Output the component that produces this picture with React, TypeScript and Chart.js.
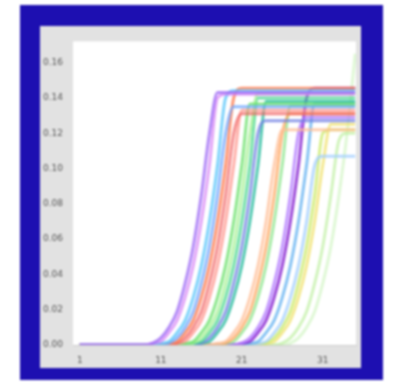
import React, { useEffect, useRef } from "react";
import { Chart, registerables } from "chart.js";

Chart.register(...registerables);

const CYCLES = [1, 2, 3, 4, 5, 6, 7, 8, 9, 10, 11, 12, 13, 14, 15, 16, 17, 18, 19, 20, 21, 22, 23, 24, 25, 26, 27, 28, 29, 30, 31, 32, 33, 34, 35];
const X_TICKS = [1, 11, 21, 31];
const Y_TICKS = [0, 0.02, 0.04, 0.06, 0.08, 0.1, 0.12, 0.14, 0.16];

const s01 = [0, 0, 0, 0, 0, 0, 0, 0, 0,
  0.001, 0.004, 0.01, 0.019, 0.035, 0.056, 0.085, 0.12,
  0.143, 0.143, 0.143, 0.143, 0.143, 0.143, 0.143, 0.143, 0.143,
  0.143, 0.143, 0.143, 0.143, 0.143, 0.143, 0.143, 0.143, 0.143];
const s02 = [0, 0, 0, 0, 0, 0, 0, 0, 0,
  0.001, 0.002, 0.007, 0.014, 0.027, 0.045, 0.07, 0.102, 0.14,
  0.142, 0.142, 0.142, 0.142, 0.142, 0.142, 0.142, 0.142, 0.142,
  0.142, 0.142, 0.142, 0.142, 0.142, 0.142, 0.142, 0.142];
const s03 = [0, 0, 0, 0, 0, 0, 0, 0, 0, 0,
  0.001, 0.002, 0.007, 0.014, 0.027, 0.045, 0.07, 0.102, 0.14,
  0.144, 0.144, 0.144, 0.144, 0.144, 0.144, 0.144, 0.144,
  0.144, 0.144, 0.144, 0.144, 0.144, 0.144, 0.144, 0.144];
const s04 = [0, 0, 0, 0, 0, 0, 0, 0, 0, 0, 0,
  0.001, 0.004, 0.01, 0.019, 0.035, 0.056, 0.085, 0.12,
  0.135, 0.135, 0.135, 0.135, 0.135, 0.135, 0.135, 0.135,
  0.135, 0.135, 0.135, 0.135, 0.135, 0.135, 0.135, 0.135];
const s05 = [0, 0, 0, 0, 0, 0, 0, 0, 0, 0, 0,
  0.001, 0.002, 0.007, 0.014, 0.027, 0.045, 0.07, 0.102, 0.14,
  0.1455, 0.1455, 0.1455, 0.1455, 0.1455, 0.1455, 0.1455, 0.1455,
  0.1455, 0.1455, 0.1455, 0.1455, 0.1455, 0.1455, 0.1455];
const s06 = [0, 0, 0, 0, 0, 0, 0, 0, 0, 0, 0, 0,
  0.001, 0.004, 0.01, 0.019, 0.035, 0.056, 0.085, 0.12,
  0.131, 0.131, 0.131, 0.131, 0.131, 0.131, 0.131, 0.131,
  0.131, 0.131, 0.131, 0.131, 0.131, 0.131, 0.131];
const s07 = [0, 0, 0, 0, 0, 0, 0, 0, 0, 0, 0, 0,
  0.001, 0.002, 0.007, 0.014, 0.027, 0.045, 0.07, 0.102,
  0.133, 0.133, 0.133, 0.133, 0.133, 0.133, 0.133, 0.133,
  0.133, 0.133, 0.133, 0.133, 0.133, 0.133, 0.133];
const s08 = [0, 0, 0, 0, 0, 0, 0, 0, 0, 0, 0, 0, 0,
  0.001, 0.002, 0.007, 0.014, 0.027, 0.045, 0.07, 0.102,
  0.1365, 0.1365, 0.1365, 0.1365, 0.1365, 0.1365, 0.1365,
  0.1365, 0.1365, 0.1365, 0.1365, 0.1365, 0.1365, 0.1365];
const s09 = [0, 0, 0, 0, 0, 0, 0, 0, 0, 0, 0, 0, 0, 0,
  0.001, 0.004, 0.01, 0.019, 0.035, 0.056, 0.085, 0.12,
  0.1425, 0.1425, 0.1425, 0.1425, 0.1425, 0.1425, 0.1425,
  0.1425, 0.1425, 0.1425, 0.1425, 0.1425, 0.1425];
const s10 = [0, 0, 0, 0, 0, 0, 0, 0, 0, 0, 0, 0, 0, 0,
  0.001, 0.002, 0.007, 0.014, 0.027, 0.045, 0.07, 0.102,
  0.14, 0.14, 0.14, 0.14, 0.14, 0.14, 0.14,
  0.14, 0.14, 0.14, 0.14, 0.14, 0.14];
const s11 = [0, 0, 0, 0, 0, 0, 0, 0, 0, 0, 0, 0, 0, 0, 0,
  0.001, 0.004, 0.01, 0.019, 0.035, 0.056, 0.085, 0.12,
  0.127, 0.127, 0.127, 0.127, 0.127, 0.127,
  0.127, 0.127, 0.127, 0.127, 0.127, 0.127];
const s12 = [0, 0, 0, 0, 0, 0, 0, 0, 0, 0, 0, 0, 0, 0, 0,
  0.001, 0.002, 0.007, 0.014, 0.027, 0.045, 0.07, 0.102,
  0.138, 0.138, 0.138, 0.138, 0.138, 0.138,
  0.138, 0.138, 0.138, 0.138, 0.138, 0.138];
const s13 = [0, 0, 0, 0, 0, 0, 0, 0, 0, 0, 0, 0, 0, 0, 0, 0, 0,
  0.001, 0.002, 0.007, 0.014, 0.027, 0.045, 0.07, 0.102,
  0.122, 0.122, 0.122, 0.122, 0.122,
  0.122, 0.122, 0.122, 0.122, 0.122];
const s14 = [0, 0, 0, 0, 0, 0, 0, 0, 0, 0, 0, 0, 0, 0, 0, 0, 0, 0,
  0.001, 0.004, 0.01, 0.019, 0.035, 0.056, 0.085, 0.12,
  0.131, 0.131, 0.131, 0.131, 0.131,
  0.131, 0.131, 0.131, 0.131];
const s15 = [0, 0, 0, 0, 0, 0, 0, 0, 0, 0, 0, 0, 0, 0, 0, 0, 0, 0,
  0.001, 0.002, 0.007, 0.014, 0.027, 0.045, 0.07, 0.102,
  0.1355, 0.1355, 0.1355, 0.1355, 0.1355,
  0.1355, 0.1355, 0.1355, 0.1355];
const s16 = [0, 0, 0, 0, 0, 0, 0, 0, 0, 0, 0, 0, 0, 0, 0, 0, 0, 0, 0, 0,
  0.001, 0.004, 0.01, 0.019, 0.035, 0.056, 0.085, 0.12,
  0.129, 0.129, 0.129, 0.129, 0.129, 0.129, 0.129];
const s17 = [0, 0, 0, 0, 0, 0, 0, 0, 0, 0, 0, 0, 0, 0, 0, 0, 0, 0, 0, 0,
  0.001, 0.002, 0.007, 0.014, 0.027, 0.045, 0.07, 0.102, 0.14,
  0.1455, 0.1455, 0.1455, 0.1455, 0.1455, 0.1455];
const s18 = [0, 0, 0, 0, 0, 0, 0, 0, 0, 0, 0, 0, 0, 0, 0, 0, 0, 0, 0, 0, 0,
  0.001, 0.002, 0.007, 0.014, 0.027, 0.045, 0.07, 0.102,
  0.137, 0.137, 0.137, 0.137, 0.137, 0.137];
const s19 = [0, 0, 0, 0, 0, 0, 0, 0, 0, 0, 0, 0, 0, 0, 0, 0, 0, 0, 0, 0, 0, 0,
  0.001, 0.002, 0.007, 0.014, 0.027, 0.045, 0.07, 0.102,
  0.107, 0.107, 0.107, 0.107, 0.107];
const s20 = [0, 0, 0, 0, 0, 0, 0, 0, 0, 0, 0, 0, 0, 0, 0, 0, 0, 0, 0, 0, 0, 0, 0,
  0.001, 0.004, 0.01, 0.019, 0.035, 0.056, 0.085, 0.12,
  0.122, 0.122, 0.122, 0.122];
const s21 = [0, 0, 0, 0, 0, 0, 0, 0, 0, 0, 0, 0, 0, 0, 0, 0, 0, 0, 0, 0, 0, 0, 0,
  0.001, 0.002, 0.007, 0.014, 0.027, 0.045, 0.07, 0.102,
  0.125, 0.125, 0.125, 0.125];
const s22 = [0, 0, 0, 0, 0, 0, 0, 0, 0, 0, 0, 0, 0, 0, 0, 0, 0, 0, 0, 0, 0, 0, 0, 0, 0,
  0.001, 0.004, 0.01, 0.019, 0.035, 0.056, 0.085, 0.116,
  0.12, 0.12];
const s23 = [0, 0, 0, 0, 0, 0, 0, 0, 0, 0, 0, 0, 0, 0, 0, 0, 0, 0, 0, 0, 0, 0, 0, 0, 0, 0,
  0.001, 0.004, 0.01, 0.019, 0.035, 0.056, 0.085, 0.12, 0.165];

const SERIES = [s01, s02, s03, s04, s05, s06, s07, s08, s09, s10, s11, s12, s13, s14, s15, s16, s17, s18, s19, s20, s21, s22, s23];
const COLORS = [
  "rgba(160,110,245,0.8)", "rgba(215,130,245,0.7)", "rgba(95,200,250,0.8)", "rgba(110,165,255,0.75)",
  "rgba(255,125,80,0.8)", "rgba(240,95,95,0.7)", "rgba(255,150,140,0.75)", "rgba(110,225,110,0.8)",
  "rgba(165,240,145,0.75)", "rgba(70,215,140,0.75)", "rgba(110,125,225,0.75)", "rgba(45,190,160,0.8)",
  "rgba(255,190,150,0.75)", "rgba(255,165,95,0.75)", "rgba(140,230,140,0.75)", "rgba(180,125,255,0.8)",
  "rgba(140,45,210,0.85)", "rgba(95,175,240,0.75)", "rgba(160,205,255,0.75)", "rgba(205,235,110,0.8)",
  "rgba(240,225,110,0.75)", "rgba(190,240,160,0.7)", "rgba(210,245,195,0.7)",
];

const bgPlugin = {
  id: "areaBg",
  beforeDraw(chart: any) {
    const { ctx, chartArea } = chart;
    ctx.save();
    ctx.fillStyle = "#ffffff";
    ctx.fillRect(chartArea.left, chartArea.top, chartArea.right - chartArea.left, chartArea.bottom - chartArea.top);
    ctx.restore();
  },
};

export default function App() {
  const ref = useRef<HTMLCanvasElement | null>(null);
  useEffect(() => {
    if (!ref.current) return;
    const chart = new Chart(ref.current, {
      type: "line",
      data: {
        datasets: SERIES.map((vals, k) => ({
          data: vals.map((v, i) => ({ x: CYCLES[i], y: v })),
          borderColor: COLORS[k],
          borderWidth: 3,
          pointRadius: 0,
          fill: false,
          cubicInterpolationMode: "monotone" as const,
        })),
      },
      options: {
        animation: false,
        responsive: false,
        devicePixelRatio: 1,
        layout: { padding: { top: 11, right: 5, left: 0, bottom: 0 } },
        plugins: { legend: { display: false }, tooltip: { enabled: false } },
        scales: {
          x: {
            type: "linear",
            min: 0.15,
            max: 35.1,
            grid: { display: false, drawTicks: false },
            border: { display: true, color: "#cccccc" },
            ticks: { color: "#555555", font: { size: 9, family: "DejaVu Sans" }, padding: 10 },
            afterBuildTicks: (s: any) => { s.ticks = X_TICKS.map((v) => ({ value: v })); },
            afterFit: (s: any) => { s.height = 23; },
          },
          y: {
            min: 0,
            max: 0.172,
            grid: { display: false, drawTicks: false },
            border: { display: false },
            ticks: {
              color: "#555555",
              font: { size: 9, family: "DejaVu Sans" },
              padding: 10,
              callback: (v: any) => Number(v).toFixed(2),
            },
            afterBuildTicks: (s: any) => { s.ticks = Y_TICKS.map((v) => ({ value: v })); },
            afterFit: (s: any) => { s.width = 33; },
          },
        },
      },
      plugins: [bgPlugin],
    });
    return () => chart.destroy();
  }, []);

  return (
    <div style={{ position: "fixed", left: 0, top: 0, width: 398, height: 384, background: "#ffffff", overflow: "hidden" }}>
      <div style={{ position: "absolute", left: 0, top: 0, width: 398, height: 384, filter: "blur(0.9px)" }}>
        <div style={{ position: "absolute", left: 20, top: 5, width: 363, height: 375, background: "#1d0fb1" }} />
        <div style={{ position: "absolute", left: 40, top: 26, width: 321, height: 342, background: "#e2e2e2" }}>
          <canvas ref={ref} width={321} height={342} style={{ display: "block", width: 321, height: 342 }} />
        </div>
      </div>
    </div>
  );
}
